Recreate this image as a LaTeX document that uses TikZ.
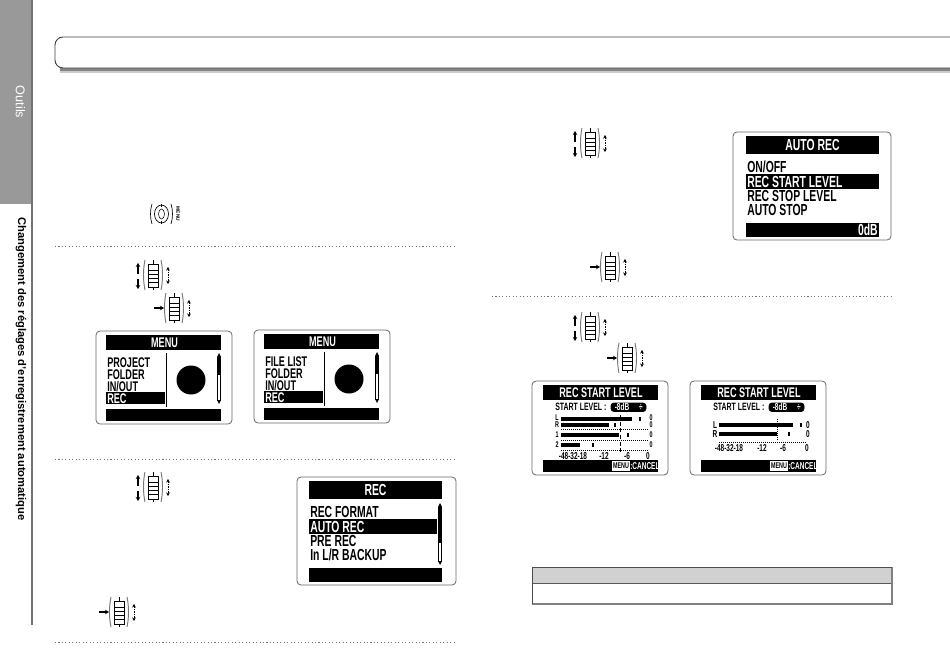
\documentclass[tikz,border=0pt]{standalone}
\usepackage{fontspec}
\setmainfont{Liberation Sans}
\newfontfamily\lcdfont[FakeStretch=0.65]{Liberation Sans}
\usetikzlibrary{arrows.meta}

\definecolor{tabgray}{HTML}{999999}
\definecolor{barline}{HTML}{777777}

\tikzset{
  lcd title/.style={font=\lcdfont\bfseries\fontsize{10.5}{10.5}\selectfont,text=white,inner sep=0pt,text height=7.5pt,text depth=0pt},
  lcd item/.style={font=\lcdfont\bfseries\fontsize{10.5}{10.5}\selectfont,inner sep=0pt,anchor=west,text height=7.5pt,text depth=0pt},
  lcd big/.style={font=\lcdfont\bfseries\fontsize{12}{12}\selectfont,text height=8.6pt},
  lcd small/.style={font=\lcdfont\bfseries\fontsize{7.5}{7.5}\selectfont,inner sep=0pt,text height=5.3pt,text depth=0pt},
  lcd label/.style={font=\lcdfont\bfseries\fontsize{8}{8}\selectfont,inner sep=0pt,text height=5.7pt,text depth=0pt},
  lcd tiny/.style={font=\lcdfont\bfseries\fontsize{6.2}{6.2}\selectfont,inner sep=0pt,text height=4.4pt,text depth=0pt},
  screen frame/.style={draw=black!60,line width=0.6pt,rounded corners=3pt,fill=white},
  rule line/.style={draw=black!55,line width=0.7pt,dash pattern=on 0.8pt off 1.8pt},
  wheel bar/.style={draw=barline,line width=0.7pt},
  wheel arrow/.style={line width=0.8pt,-{Stealth[length=3pt,width=3.4pt]}},
  wheel both/.style={line width=0.7pt,{Stealth[length=2.6pt,width=2.8pt]}-{Stealth[length=2.6pt,width=2.8pt]},dash pattern=on 1.2pt off 0.7pt},
  wheelbody/.pic={
    \draw[wheel bar] (-8,-15) .. controls (-10,-6) and (-10,6) .. (-8,15);
    \draw[wheel bar] (8,-15) .. controls (10,-6) and (10,6) .. (8,15);
    \draw[line width=0.4pt] (0,-15) -- (0,-11) (0,12) -- (0,15);
    \draw[line width=0.5pt] (-5,-11) rectangle (5,12);
    \foreach \yy in {-5,-1,3,7}
      \draw[line width=0.4pt] (-5,\yy) -- (5,\yy);
  },
  updown/.pic={
    \pic {wheelbody};
    \draw[wheel arrow] (-15,-1.5) -- (-15,-12);
    \draw[wheel arrow] (-15,4) -- (-15,14);
    \draw[wheel both] (15,-8) -- (15,9);
  },
  press/.pic={
    \pic {wheelbody};
    \draw[wheel arrow] (-20,0) -- (-10,0);
    \draw[wheel both] (15,-8) -- (15,9);
  }
}

% scrollbar: x, top, end of the black part, bottom
\newcommand{\lcdscroll}[4]{
  \fill (#1-2,#2) -- (#1,#2-4) -- (#1+2,#2) -- cycle;
  \draw[line width=0.5pt] (#1-1.5,#2) rectangle (#1+1.5,#4);
  \fill (#1-1.5,#2) rectangle (#1+1.5,#3);
  \fill (#1-2,#4) -- (#1,#4+4) -- (#1+2,#4) -- cycle;
}

% menu screen: name, shift, first line
\newcommand{\menuscreen}[3]{
  \begin{scope}[shift={#2}]
    \path[screen frame] (96,331) rectangle (232,424);
    \fill (106,335) rectangle (221,350);
    \node[lcd title] (#1title) at (164.5,342.5) {MENU};
    \node[lcd item] (#1a) at (107,362) {#3};
    \node[lcd item] (#1b) at (107,374) {FOLDER};
    \node[lcd item] (#1c) at (107,386) {IN/OUT};
    \fill (106,392) rectangle (165,404);
    \node[lcd item,text=white] (#1d) at (107,398) {REC};
    \draw[line width=0.6pt] (166,353) -- (166,407);
    \fill (191,380) circle[radius=14.5];
    \lcdscroll{219}{357}{375}{400}
    \fill (106,409) rectangle (221,421);
  \end{scope}
}

% common part of the level screens: name, shift
\newcommand{\levelscreen}[2]{
  \begin{scope}[shift={#2}]
    \path[screen frame] (532,381) rectangle (668,475);
    \fill (543,385) rectangle (658,400);
    \node[lcd title] (#1title) at (601,392.5) {REC START LEVEL};
    \node[lcd label,anchor=west] (#1start) at (555,407) {START LEVEL :};
    \draw[fill=black,rounded corners=2pt] (611,403) rectangle (646,411.5);
    \node[lcd small,text=white] (#1val) at (622,407.3) {-8dB};
    \node[lcd small,text=white] (#1updn) at (641,407.3) {÷};
    \fill (543,460) rectangle (658,472);
    \node[lcd tiny,fill=white,text=black,minimum width=13.5pt,minimum height=8pt] (#1menu) at (621,466) {MENU};
    \node[lcd small,text=white,anchor=west] (#1cancel) at (630,466) {:CANCEL};
  \end{scope}
}

\begin{document}
\begin{tikzpicture}[x=0.75pt,y=-0.75pt]
  \useasboundingbox (0,0) rectangle (950,671);

  % left tab
  \fill[tabgray] (0,0) rectangle (32,204);
  \draw[black!55,line width=0.8pt] (32,0) -- (32,625);
  \node[rotate=-90,text=white,font=\fontsize{9.5}{9.5}\selectfont,inner sep=0pt] (tabname) at (20.5,102) {Outils};
  \node[rotate=-90,font=\bfseries\fontsize{8.4}{8.4}\selectfont,inner sep=0pt] (tabtitle) at (21,369) {Changement des réglages d'enregistrement automatique};

  % title box
  \draw[black!20,line width=1.5pt] (60,71.5) -- (950,71.5);
  \draw[black!48,line width=2.2pt] (60,69.5) -- (950,69.5);
  \draw[black!75,line width=0.7pt,rounded corners=6pt,fill=white] (950,37) -- (55,37) -- (55,68) -- (950,68);

  % rules
  \draw[rule line] (55,246) -- (455,246);
  \draw[rule line] (55,459) -- (455,459);
  \draw[rule line] (55,642) -- (455,642);
  \draw[rule line] (492,296) -- (892,296);

  % menu key
  \draw[line width=0.5pt] (152,204) .. controls (150,210) and (150,218) .. (152,224);
  \draw[line width=0.5pt] (171,204) .. controls (173,210) and (173,218) .. (171,224);
  \draw[line width=0.5pt] (161.5,214) circle[x radius=7,y radius=9];
  \draw[line width=0.4pt] (161.5,214) circle[x radius=3,y radius=5];
  \draw[line width=0.4pt] (161.5,204) -- (161.5,207) (161.5,221) -- (161.5,224);
  \node[rotate=-90,font=\bfseries\fontsize{3.6}{3.6}\selectfont,inner sep=0pt] (menukey) at (178,214) {MENU};

  % wheel icons
  \pic at (153,275) {updown};
  \pic at (174,308) {press};
  \pic at (153,487) {updown};
  \pic at (119,612) {press};
  \pic at (590,143) {updown};
  \pic at (610,267) {press};
  \pic at (590,327) {updown};
  \pic at (627,358) {press};

  % MENU screens
  \menuscreen{menuA}{(0,0)}{PROJECT}
  \menuscreen{menuB}{(158,-1)}{FILE LIST}

  % REC screen
  \path[screen frame] (297,477) rectangle (456,585);
  \fill (309,481) rectangle (442,499);
  \node[lcd title,lcd big] (recTitle) at (375.5,490) {REC};
  \node[lcd item,lcd big] (recA) at (310,512) {REC FORMAT};
  \fill (309,519) rectangle (437,534);
  \node[lcd item,lcd big,text=white] (recB) at (310,526.5) {AUTO REC};
  \node[lcd item,lcd big] (recC) at (310,541) {PRE REC};
  \node[lcd item,lcd big] (recD) at (310,555) {In L/R BACKUP};
  \lcdscroll{440}{507}{543}{561}
  \fill (309,568) rectangle (442,582);

  % AUTO REC screen
  \path[screen frame] (733,132) rectangle (891,240);
  \fill (746,136) rectangle (879,154);
  \node[lcd title,lcd big] (autoTitle) at (812.5,145) {AUTO REC};
  \node[lcd item,lcd big] (autoA) at (747,167) {ON/OFF};
  \fill (746,174) rectangle (879,189);
  \node[lcd item,lcd big,text=white] (autoB) at (747,181.5) {REC START LEVEL};
  \node[lcd item,lcd big] (autoC) at (747,196) {REC STOP LEVEL};
  \node[lcd item,lcd big] (autoD) at (747,210) {AUTO STOP};
  \fill (746,223) rectangle (879,237);
  \node[lcd item,lcd big,text=white,anchor=east] (autoVal) at (878,230) {0dB};

  % level screen with four meters
  \levelscreen{lvlA}{(0,0)}
  \node[lcd tiny] (lvlAl) at (557,418) {L};
  \node[lcd tiny] (lvlAr) at (557,425) {R};
  \node[lcd tiny] (lvlAone) at (557,435) {1};
  \node[lcd tiny] (lvlAtwo) at (557,445) {2};
  \fill (561,417) rectangle (632,421);
  \fill (639,417) rectangle (641,421);
  \fill (561,423) rectangle (609,427);
  \fill (614,423) rectangle (616,427);
  \fill (561,433) rectangle (619,437);
  \fill (627,433) rectangle (629,437);
  \fill (561,443) rectangle (580,447);
  \fill (592,443) rectangle (594,447);
  \foreach \yy in {429,440,450}
    \draw[line width=0.5pt,densely dotted] (561,\yy) -- (649,\yy);
  \node[lcd tiny] (lvlAzeroa) at (651,418) {0};
  \node[lcd tiny] (lvlAzerob) at (651,425) {0};
  \node[lcd tiny] (lvlAzeroc) at (651,435) {0};
  \node[lcd tiny] (lvlAzerod) at (651,445) {0};
  \draw[line width=0.5pt,densely dashed] (620,415) -- (620,452);
  \node[lcd small] (lvlAs) at (573,455.5) {-48-32-18};
  \node[lcd small] (lvlAt) at (604,455.5) {-12};
  \node[lcd small] (lvlAu) at (627,455.5) {-6};
  \node[lcd small] (lvlAv) at (648,455.5) {0};

  % level screen with two meters
  \levelscreen{lvlB}{(158,0)}
  \node[lcd small] (lvlBl) at (715,425) {L};
  \node[lcd small] (lvlBr) at (715,434) {R};
  \fill (719,423) rectangle (793,427);
  \fill (800,423) rectangle (802,427);
  \fill (719,432) rectangle (777,436);
  \fill (788,432) rectangle (789.5,436);
  \draw[line width=0.5pt,densely dotted] (719,442) -- (807,442);
  \draw[line width=0.5pt,densely dotted] (777,419) -- (777,441);
  \node[lcd small] (lvlBzeroa) at (808,425) {0};
  \node[lcd small] (lvlBzerob) at (808,434) {0};
  \node[lcd small] (lvlBs) at (729,447.5) {-48-32-18};
  \node[lcd small] (lvlBt) at (762,447.5) {-12};
  \node[lcd small] (lvlBu) at (783,447.5) {-6};
  \node[lcd small] (lvlBv) at (807,447.5) {0};

  % table
  \fill[black!18] (532,567) rectangle (892,583);
  \draw[black!65,line width=0.7pt] (532,583) -- (892,583);
  \draw[black!50,line width=0.8pt] (892,567) -- (892,604) -- (532,604);
  \draw[black!70,line width=0.7pt] (532,604) -- (532,567) -- (892,567);
\end{tikzpicture}
\end{document}
